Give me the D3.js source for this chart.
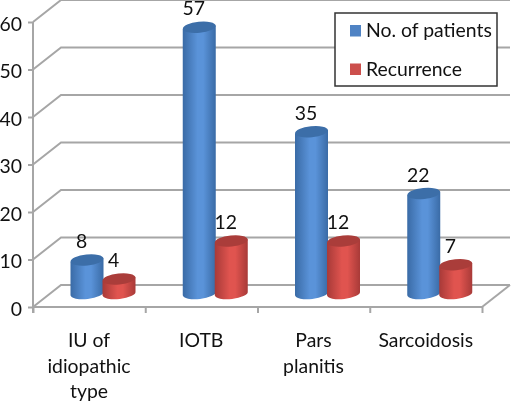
<!DOCTYPE html>
<html>
<head>
<meta charset="utf-8">
<script src="https://d3js.org/d3.v7.min.js"></script>
<style>
html, body { margin: 0; padding: 0; background: #fff; }
svg { display: block; filter: blur(0.4px); }
text { font-family: Lato, "Open Sans", sans-serif; fill: #111; }
</style>
</head>
<body>
<svg id="chart" width="511" height="404"></svg>
<script>
var categories = [["IU of", "idiopathic", "type"], ["IOTB"], ["Pars", "planitis"], ["Sarcoidosis"]];
var seriesNames = ["No. of patients", "Recurrence"];
var patients = [8, 57, 35, 22];
var recurrence = [4, 12, 12, 7];
var yTicks = [0, 10, 20, 30, 40, 50, 60];

var svg = d3.select("#chart");
var depthX = 28, depthY = 22;
var fontSize = 19.4;
var gridColor = "#a6a6a6";

var y = d3.scaleLinear().domain([0, 60]).range([307, 22]);
var xEdge = d3.scaleLinear().domain([0, 4]).range([33, 482]);
var xSeries = d3.scaleBand().domain(seriesNames).range([38, 102]);

// gradients for the cylinders
var defs = svg.append("defs");
function addGradient(id, edge, mid) {
    var g = defs.append("linearGradient").attr("id", id);
    g.append("stop").attr("offset", "0%").attr("stop-color", edge);
    g.append("stop").attr("offset", "45%").attr("stop-color", mid);
    g.append("stop").attr("offset", "62%").attr("stop-color", mid);
    g.append("stop").attr("offset", "100%").attr("stop-color", edge);
}
addGradient("blueBody", "#3a6ba6", "#5a93d9");
addGradient("redBody", "#a83a38", "#e0544f");

// side wall + back wall gridlines
var grid = svg.append("g").attr("fill", "none").attr("stroke", gridColor).attr("stroke-width", 2);
grid.selectAll("path")
    .data(yTicks)
    .enter()
    .append("path")
    .attr("d", function(d) {
        var p = d3.path();
        p.moveTo(xEdge(0), y(d));
        p.lineTo(xEdge(0) + depthX, y(d) - depthY);
        p.lineTo(xEdge(4) + depthX, y(d) - depthY);
        return p.toString();
    });
var floor = d3.path();
floor.moveTo(xEdge(4), y(0));
floor.lineTo(xEdge(4) + depthX, y(0) - depthY);
grid.append("path").attr("d", floor.toString());

// axes
var yAxis = d3.axisLeft(y).tickValues(yTicks).tickSize(5).tickPadding(6).tickFormat(d3.format("d"));
var yG = svg.append("g").attr("transform", "translate(" + xEdge(0) + ",0)").call(yAxis);
yG.select(".domain").attr("stroke", gridColor).attr("stroke-width", 2).attr("d", "M0," + y(60) + "V" + (y(0) + 6));
yG.selectAll(".tick line").attr("stroke", gridColor).attr("stroke-width", 2);
yG.selectAll(".tick text").style("font-family", "Lato").style("font-size", fontSize + "px").attr("fill", "#111").attr("dy", "0.42em");

var xAxis = d3.axisBottom(xEdge).tickValues([0, 1, 2, 3, 4]).tickSize(6).tickFormat("");
var xG = svg.append("g").attr("transform", "translate(0," + y(0) + ")").call(xAxis);
xG.select(".domain").attr("stroke", gridColor).attr("stroke-width", 2).attr("d", "M" + xEdge(0) + ",0H" + xEdge(4));
xG.selectAll(".tick line").attr("stroke", gridColor).attr("stroke-width", 2);

// category labels
var catLabels = svg.append("g").attr("text-anchor", "middle").style("font-size", fontSize + "px");
catLabels.selectAll("text")
    .data(categories)
    .enter()
    .append("text")
    .attr("y", 347)
    .each(function(lines, i) {
        d3.select(this).selectAll("tspan")
            .data(lines)
            .enter()
            .append("tspan")
            .attr("x", xEdge(i) + 56)
            .attr("y", function(l, k) { return 347 + k * 25.5; })
            .text(function(l) { return l; });
    });

// cylinders
var r = 16.5, ry = 5.5, tilt = 1.8;
var baseY = y(0) - 13.5;
function drawBars(values, name, bodyFill, topFill) {
    var g = svg.append("g");
    values.forEach(function(v, i) {
        var cx = xEdge(i) + xSeries(name) + xSeries.bandwidth() / 2;
        var top = y(v) - 9;
        var arc = "A" + r + "," + ry + " -6 0 0 ";
        g.append("path")
            .attr("d", "M" + (cx - r) + "," + (top + tilt) +
                "L" + (cx - r) + "," + (baseY + tilt) +
                arc + (cx + r) + "," + (baseY - tilt) +
                "L" + (cx + r) + "," + (top - tilt) + "Z")
            .attr("fill", "url(#" + bodyFill + ")");
        g.append("ellipse")
            .attr("cx", cx).attr("cy", top)
            .attr("rx", r).attr("ry", ry)
            .attr("transform", "rotate(-6 " + cx + " " + top + ")")
            .attr("fill", topFill);
        g.append("text")
            .attr("x", cx - 5.5)
            .attr("y", top - 12)
            .attr("text-anchor", "middle")
            .style("font-size", fontSize + "px")
            .text(v);
    });
}
drawBars(patients, seriesNames[0], "blueBody", "#3c6ea8");
drawBars(recurrence, seriesNames[1], "redBody", "#aa3d3a");

// legend
var legend = svg.append("g");
legend.append("rect")
    .attr("x", 335).attr("y", 13).attr("width", 162).attr("height", 73)
    .attr("fill", "#fff").attr("stroke", "#333").attr("stroke-width", 1.5);
var swatchColors = ["#4f83c4", "#cc4f4c"];
seriesNames.forEach(function(s, i) {
    legend.append("rect")
        .attr("x", 350).attr("y", 25 + i * 38.5)
        .attr("width", 11).attr("height", 11.5)
        .attr("fill", swatchColors[i]);
    legend.append("text")
        .attr("x", 366).attr("y", 37 + i * 38.5)
        .style("font-size", fontSize + "px")
        .text(s);
});
</script>
</body>
</html>
